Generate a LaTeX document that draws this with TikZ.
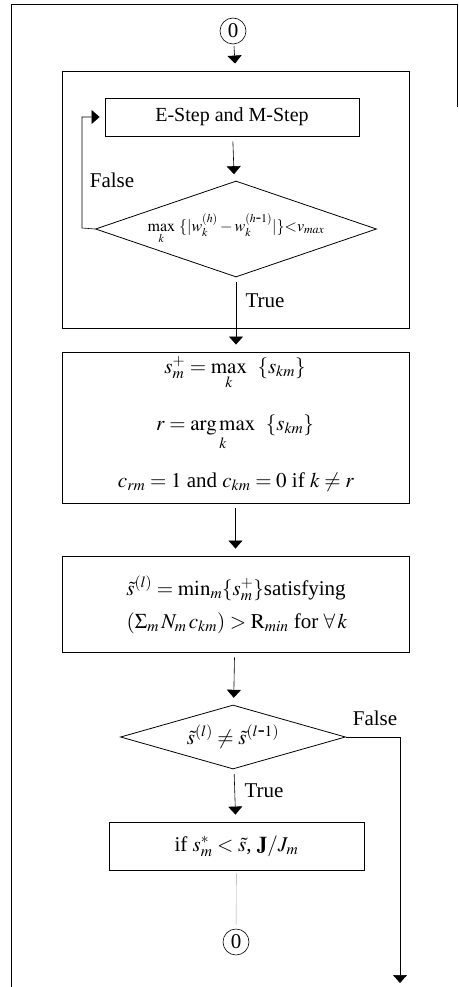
\documentclass[tikz,border=0pt]{standalone}
\usepackage{mathptmx}
\usepackage{fontspec}
\setmainfont{Liberation Serif}
\usetikzlibrary{arrows.meta,shapes.geometric}

\tikzset{
  procbox/.style={draw, line width=0.9pt, inner sep=0pt, align=center},
  decision/.style={draw, diamond, line width=0.8pt, inner sep=0pt, aspect=3},
  connector/.style={draw, circle, line width=0.6pt, minimum size=26pt, inner sep=0pt},
  flow/.style={line width=0.6pt, -{Triangle[width=14pt,length=8pt]}, shorten <=5pt, shorten >=7pt},
  wire/.style={line width=0.6pt},
  txt/.style={inner sep=0pt, anchor=base},
}

\begin{document}
\begin{tikzpicture}[x=1pt, y=-1pt, font=\fontsize{21}{25}\selectfont]
  \useasboundingbox (0,0) rectangle (458,987);
  % Frame:
  \draw[wire] (11,987) -- (11,4) -- (457,4) -- (457,107);
  % Nodes:
  \node[connector] (top0) at (233,31) {0};
  \node[procbox, minimum width=347, minimum height=257] (loopbox) at (235.5,199.5) {};
  \node[procbox, minimum width=254, minimum height=38, font=\fontsize{20}{24}\selectfont] (estep) at (232,117) {E-Step and M-Step};
  \node[decision, minimum width=281, minimum height=96, font=\fontsize{16}{19}\selectfont] (conv) at (236,229)
    {$\max\limits_k\ \{|w_k^{(h)} - w_k^{(h\mbox{-}1)}|\}{<}v_{max}$};
  \node[procbox, minimum width=347, minimum height=151] (assign) at (235.5,427.5) {};
  \node[txt] (assign1) at (235,373) {$s_m^+ = \max\limits_k\ \ \{s_{km}\}$};
  \node[txt] (assign2) at (235,430) {$r = \mathop{\mathrm{arg\,max}}\limits_k\ \ \{s_{km}\}$};
  \node[txt] (assign3) at (236,487) {$c_{rm} = 1$ and $c_{km} = 0$ if $k \neq r$};
  \node[procbox, minimum width=347, minimum height=96] (thresh) at (235.5,604) {};
  \node[txt] (thresh1) at (236,595) {$\tilde{s}^{(l)} = \min_m\{s_m^+\}$satisfying};
  \node[txt] (thresh2) at (237,628) {$(\Sigma_m\, N_m\, c_{km}) > \mathrm{R}_{min}$ for $\forall\, k$};
  \node[decision, minimum width=225, minimum height=64] (change) at (233,737)
    {$\tilde{s}^{(l)} \neq \tilde{s}^{(l\mbox{-}1)}$};
  \node[procbox, minimum width=255, minimum height=48] (prune) at (236.5,846)
    {if $s_m^* < \tilde{s}$, $\mathbf{J}/J_m$};
  \node[connector] (bot0) at (236,942) {0};
  \coordinate (loopx) at (82,228);
  \coordinate (endx) at (400,983);
  % Connectors:
  \draw[flow, shorten <=2pt] (top0) -- (loopbox.north);
  \draw[flow] (estep) -- (conv);
  \draw[flow, shorten <=0pt, shorten >=5pt] (conv.west) -- (loopx) |- (estep.west);
  \node[txt] (false1) at (112,187) {False};
  \draw[flow] (conv.south) -- (conv.south |- assign.north);
  \node[txt] (true1) at (265,307) {True};
  \draw[flow] (assign) -- (thresh);
  \draw[flow] (thresh) -- (change);
  \draw[flow, shorten >=0pt, shorten <=0pt] (change.east) -- (change.east -| endx) -- (endx);
  \node[txt] (false2) at (375,725) {False};
  \draw[flow] (change) -- (prune);
  \node[txt] (true2) at (264,797) {True};
  \draw[line width=0.4pt, draw=gray!70, shorten <=3pt, shorten >=4pt] (prune) -- (bot0);
\end{tikzpicture}
\end{document}
